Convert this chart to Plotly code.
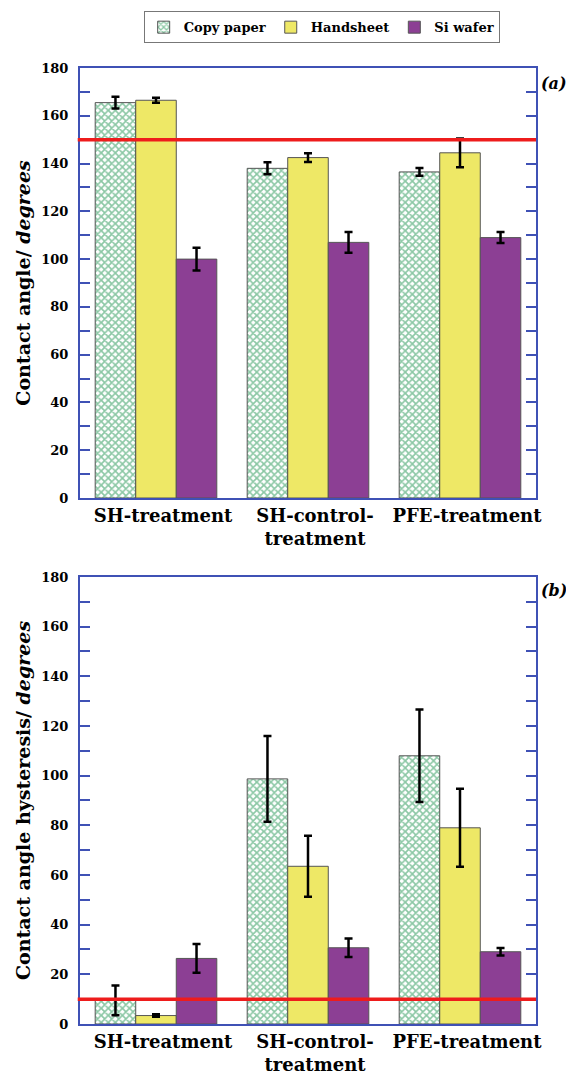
import plotly.graph_objects as go

categories = ["SH-treatment", "SH-control-<br>treatment", "PFE-treatment"]
series_names = ["Copy paper", "Handsheet", "Si wafer"]

# Panel (a): contact angle
angle_copy = [165.5, 138.0, 136.5]
angle_copy_err = [2.5, 2.5, 1.6]
angle_hand = [166.5, 142.5, 144.5]
angle_hand_err = [1.0, 1.8, 6.0]
angle_si = [100.0, 107.0, 109.0]
angle_si_err = [4.8, 4.3, 2.3]

# Panel (b): contact angle hysteresis
hyst_copy = [9.5, 98.7, 108.0]
hyst_copy_err = [6.0, 17.3, 18.6]
hyst_hand = [3.4, 63.5, 79.0]
hyst_hand_err = [0.5, 12.3, 15.7]
hyst_si = [26.4, 30.7, 29.1]
hyst_si_err = [5.8, 3.7, 1.5]

threshold_a = 150
threshold_b = 10

FONT = "DejaVu Serif"
GREEN = "#17904a"
YELLOW = "#eee866"
PURPLE = "#8c3f94"
BLUE = "#3f51b5"

fig = go.Figure()

def add_panel(vals, errs, xa, ya, show):
    styles = [
        dict(color="white", pattern=dict(shape="x", fgcolor=GREEN, size=5, solidity=0.55)),
        dict(color=YELLOW),
        dict(color=PURPLE),
    ]
    for name, v, e, st in zip(series_names, vals, errs, styles):
        fig.add_trace(go.Bar(
            x=categories, y=v, name=name, xaxis=xa, yaxis=ya,
            legendgroup=name, showlegend=show,
            marker=dict(**st, line=dict(color="#555555", width=1)),
            error_y=dict(type="data", array=e, color="black", thickness=2.5, width=4),
        ))

add_panel([angle_copy, angle_hand, angle_si], [angle_copy_err, angle_hand_err, angle_si_err], "x", "y", True)
add_panel([hyst_copy, hyst_hand, hyst_si], [hyst_copy_err, hyst_hand_err, hyst_si_err], "x2", "y2", False)

xcommon = dict(showline=True, linecolor=BLUE, linewidth=2, mirror=True, ticks="",
               ticklabelshift=7,
               tickfont=dict(family=FONT, size=18, color="black", weight="bold"))
ycommon = dict(range=[0, 180], dtick=20, showline=True, linecolor=BLUE, linewidth=2,
               mirror="ticks", ticks="inside", ticklen=10, tickwidth=2, tickcolor=BLUE,
               minor=dict(dtick=10, ticks="inside", ticklen=10, tickwidth=2, tickcolor=BLUE),
               showgrid=False, zeroline=False, ticklabelstandoff=7,
               tickfont=dict(family=FONT, size=13, color="black", weight="bold"))

fig.update_layout(
    width=566, height=1070,
    margin=dict(l=72, r=38, t=60, b=54, autoexpand=False),
    paper_bgcolor="white", plot_bgcolor="white",
    barmode="group", bargap=0.2, bargroupgap=0,
    font=dict(family=FONT, color="black"),
    xaxis=dict(**xcommon, domain=[0, 1], anchor="y"),
    yaxis=dict(**ycommon, domain=[0.5502, 1.0], anchor="x",
               title=dict(text="Contact angle/ <i>degrees</i>", standoff=6,
                          font=dict(family=FONT, size=19, color="black", weight="bold"))),
    xaxis2=dict(**xcommon, domain=[0, 1], anchor="y2"),
    yaxis2=dict(**ycommon, domain=[0, 0.4676], anchor="x2",
                title=dict(text="Contact angle hysteresis/ <i>degrees</i>", standoff=6,
                           font=dict(family=FONT, size=19, color="black", weight="bold"))),
    legend=dict(orientation="h", x=0.53, xanchor="center", xref="paper",
                y=0.997, yanchor="top", yref="container",
                bordercolor="#777777", borderwidth=1, tracegroupgap=0,
                font=dict(family=FONT, size=13, color="black", weight="bold")),
    showlegend=True,
)

for yref, val in (("y", threshold_a), ("y2", threshold_b)):
    xr = "x domain" if yref == "y" else "x2 domain"
    fig.add_shape(type="line", xref=xr, yref=yref, x0=-0.005, x1=1.0, y0=val, y1=val,
                  line=dict(color="#ee1c1c", width=3.5), layer="above")

fig.add_annotation(text="<b><i>(a)</i></b>", xref="paper", yref="paper", x=1.006, y=0.984,
                   xanchor="left", yanchor="middle", showarrow=False,
                   font=dict(family=FONT, size=16, color="black"))
fig.add_annotation(text="<b><i>(b)</i></b>", xref="paper", yref="paper", x=1.006, y=0.453,
                   xanchor="left", yanchor="middle", showarrow=False,
                   font=dict(family=FONT, size=16, color="black"))

fig.write_html("out.html")
